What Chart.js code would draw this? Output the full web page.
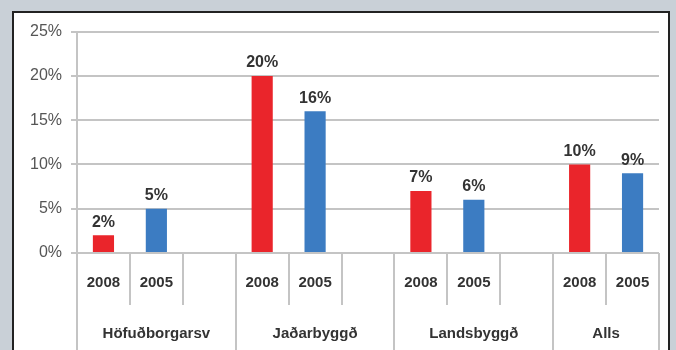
<!DOCTYPE html>
<html>
<head>
<meta charset="utf-8">
<script src="https://cdn.jsdelivr.net/npm/chart.js@4.4.1/dist/chart.umd.min.js"></script>
<style>
  html, body { margin: 0; padding: 0; background: #c9d0d7; overflow: hidden; }
  #panel {
    position: absolute; left: 12px; top: 11px;
    width: 654px; height: 350px;
    border: 2px solid #222; border-bottom: none;
    background: #fff;
  }
  canvas { display: block; }
</style>
</head>
<body>
<div id="panel"><canvas id="chart" width="654" height="337"></canvas></div>
<script>
// data
const regions = ['Höfuðborgarsv', 'Jaðarbyggð', 'Landsbyggð', 'Alls'];
const years = ['2008', '2005'];
const values2008 = [2, 20, 7, 10];
const values2005 = [5, 16, 6, 9];
const yTicks = [0, 5, 10, 15, 20, 25];

const red = '#ea252b';
const blue = '#3c7cc2';
const gridColor = '#c4c4c4';
const fontFamily = '"Liberation Sans", Arial, sans-serif';

// every region gets a slot per year, plus an empty spacer slot (not after the last)
const groups = regions.map((r, i) => i < regions.length - 1 ? [...years, ''] : [...years]);
const labels = groups.flat();
const slotData = (vals, yearIdx) => {
    const out = [];
    groups.forEach((g, gi) => g.forEach((_, si) => out.push(si === yearIdx ? vals[gi] : null)));
    return out;
};

// 📊 value labels over bars
const valueLabels = {
    id: 'valueLabels',
    afterDatasetsDraw(chart) {
        const ctx = chart.ctx;
        ctx.save();
        ctx.font = 'bold 16px ' + fontFamily;
        ctx.fillStyle = '#333';
        ctx.textAlign = 'center';
        ctx.textBaseline = 'bottom';
        chart.data.datasets.forEach((ds, i) => {
            chart.getDatasetMeta(i).data.forEach((bar, j) => {
                if (ds.data[j] == null) return;
                ctx.fillText(ds.data[j] + '%', bar.x, bar.y - 5);
            });
        });
        ctx.restore();
    }
};

// 📋 two-level category table under the plot
const categoryTable = {
    id: 'categoryTable',
    afterDraw(chart) {
        const ctx = chart.ctx;
        const xs = chart.scales.x;
        const top = chart.chartArea.bottom;
        const step = xs.width / labels.length;
        ctx.save();
        ctx.strokeStyle = gridColor;
        ctx.lineWidth = 2;
        let idx = 0;
        const groupStarts = [];
        groups.forEach(g => { groupStarts.push(idx); idx += g.length; });
        groupStarts.push(idx);
        for (let i = 0; i <= labels.length; i++) {
            const x = Math.round(xs.left + i * step);
            const full = groupStarts.includes(i);
            ctx.beginPath();
            ctx.moveTo(x, top);
            ctx.lineTo(x, full ? chart.height : top + 52);
            ctx.stroke();
        }
        ctx.font = 'bold 15px ' + fontFamily;
        ctx.fillStyle = '#333';
        ctx.textAlign = 'center';
        ctx.textBaseline = 'middle';
        regions.forEach((r, gi) => {
            const x = xs.left + (groupStarts[gi] + groupStarts[gi + 1]) / 2 * step;
            ctx.fillText(r, x, top + 81);
        });
        ctx.restore();
    }
};

new Chart(document.getElementById('chart'), {
    type: 'bar',
    data: {
        labels,
        datasets: [
            { label: years[0], data: slotData(values2008, 0), backgroundColor: red },
            { label: years[1], data: slotData(values2005, 1), backgroundColor: blue }
        ]
    },
    options: {
        responsive: false,
        animation: false,
        devicePixelRatio: 1,
        layout: { padding: { left: 14, right: 9, top: 18, bottom: 0 } },
        datasets: { bar: { grouped: false, barPercentage: 0.4, categoryPercentage: 1 } },
        plugins: { legend: { display: false }, tooltip: { enabled: false } },
        scales: {
            x: {
                grid: { display: false },
                border: { display: false },
                ticks: {
                    color: '#333',
                    padding: 13,
                    maxRotation: 0,
                    autoSkip: false,
                    font: { family: fontFamily, size: 15, weight: 'bold' }
                },
                afterFit(scale) { scale.height = 97; }
            },
            y: {
                min: 0,
                max: 25,
                afterBuildTicks(scale) { scale.ticks = yTicks.map(v => ({ value: v })); },
                grid: { color: gridColor, lineWidth: 2, tickLength: 6 },
                border: { color: gridColor, width: 2 },
                ticks: {
                    color: '#555',
                    padding: 9,
                    font: { family: fontFamily, size: 16 },
                    callback: v => v + '%'
                },
                afterFit(scale) { scale.width = 49; }
            }
        }
    },
    plugins: [valueLabels, categoryTable]
});
</script>
</body>
</html>
